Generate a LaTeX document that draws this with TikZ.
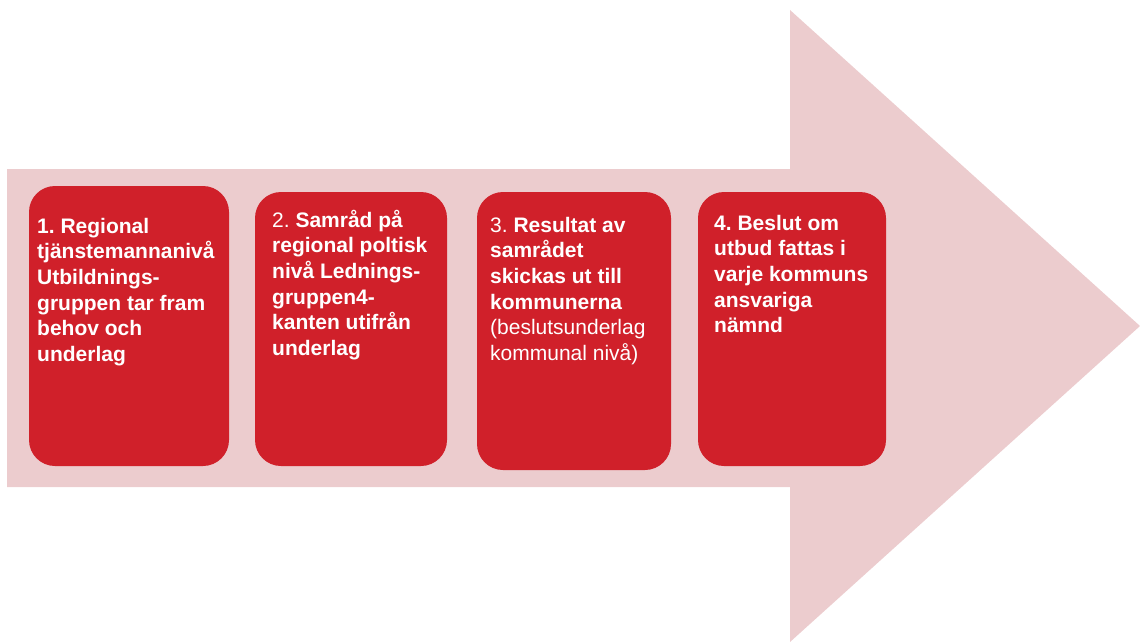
\documentclass[tikz,border=0pt]{standalone}
\usepackage{fontspec}
\setmainfont{Liberation Sans}
\frenchspacing
\definecolor{arrowpink}{HTML}{ECCCCE}
\definecolor{boxred}{HTML}{D0202A}
\begin{document}
\begin{tikzpicture}[x=1pt,y=-1pt,
  stepbox/.style={fill=boxred, draw=none, rounded corners=26pt},
  steptext/.style={anchor=base west, align=left, inner sep=0pt, text=white,
    font=\frenchspacing\fontsize{21}{25.7}\selectfont}]
\useasboundingbox (0,0) rectangle (1140,642);
% big arrow
\fill[arrowpink] (7,169) -- (790,169) -- (790,10) -- (1140,326) -- (790,642)
  -- (790,487) -- (7,487) -- cycle;
% boxes
\path[stepbox] (29,186) rectangle (229,466);
\path[stepbox] (255,192) rectangle (447,466);
\path[stepbox] (477,192) rectangle (671,470);
\path[stepbox] (698,192) rectangle (886,466);
% last-line baselines of the texts
\node[coordinate] (b1) at (37,361.5) {};
\node[coordinate] (b2) at (272,355.5) {};
\node[coordinate] (b3) at (490,360.5) {};
\node[coordinate] (b4) at (714,332.8) {};
% texts
\node[steptext] (t1) at (b1) {\bfseries 1. Regional\\\bfseries tjänstemannanivå\\\bfseries Utbildnings-\\\bfseries gruppen tar fram\\\bfseries behov och\\\bfseries underlag};
\node[steptext] (t2) at (b2) {2. \textbf{Samråd på}\\\bfseries regional poltisk\\\bfseries nivå Lednings-\\\bfseries gruppen4-\\\bfseries kanten utifrån\\\bfseries underlag};
\node[steptext] (t3) at (b3) {3. \textbf{Resultat av}\\\bfseries samrådet\\\bfseries skickas ut till\\\bfseries kommunerna\\(beslutsunderlag\\kommunal nivå)};
\node[steptext] (t4) at (b4) {\bfseries 4. Beslut om\\\bfseries utbud fattas i\\\bfseries varje kommuns\\\bfseries ansvariga\\\bfseries nämnd};
\end{tikzpicture}
\end{document}
